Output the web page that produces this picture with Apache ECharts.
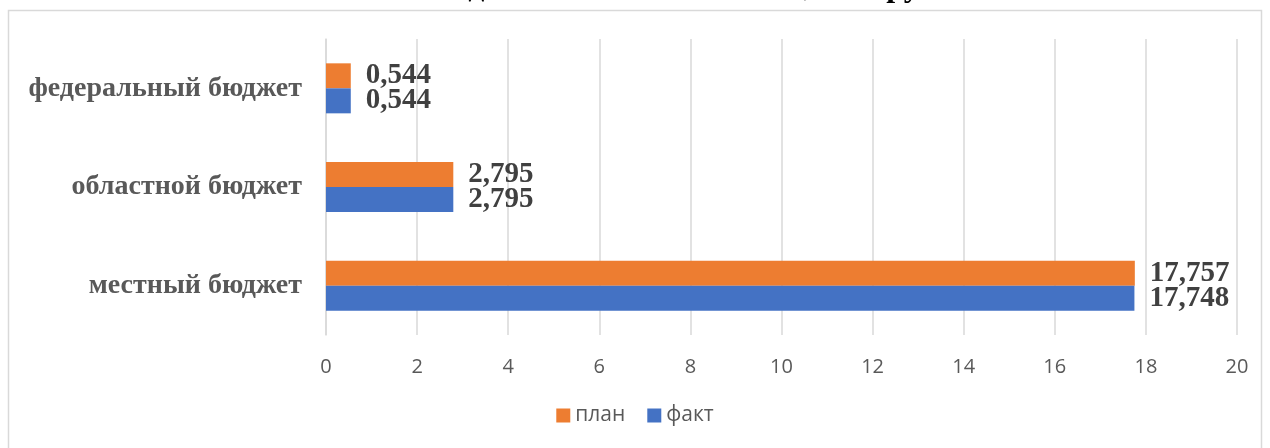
<!DOCTYPE html>
<html>
<head>
<meta charset="utf-8">
<script src="https://cdn.jsdelivr.net/npm/echarts@6/dist/echarts.min.js"></script>
<style>
  html, body { margin: 0; padding: 0; background: #fff; }
  #main { width: 1270px; height: 448px; }
</style>
</head>
<body>
<div id="main"></div>
<script>
// категории снизу вверх
var categories = ['местный бюджет', 'областной бюджет', 'федеральный бюджет'];
var planData = [17.757, 2.795, 0.544];
var factData = [17.748, 2.795, 0.544];
var seriesNames = ['план', 'факт'];

var chart = echarts.init(document.getElementById('main'));

function fmt(p) {
  return p.value.toFixed(3).replace('.', ',');
}

var labelStyle = {
  show: true,
  position: 'right',
  distance: 15,
  formatter: fmt,
  fontFamily: 'Liberation Serif',
  fontWeight: 'bold',
  fontSize: 29,
  color: '#404040'
};

var option = {
  animation: false,
  title: {
    text: 'Объем бюджетных ассигнований, млн руб.',
    left: 'center',
    top: -33,
    textStyle: {
      fontFamily: 'Liberation Serif',
      fontWeight: 'bold',
      fontSize: 32,
      color: '#000'
    }
  },
  graphic: [{
    type: 'rect',
    shape: { x: 8.5, y: 10.5, width: 1253, height: 460 },
    style: { fill: 'none', stroke: '#d9d9d9', lineWidth: 1.5 },
    silent: true
  }],
  legend: {
    data: seriesNames,
    bottom: 17,
    left: 'center',
    itemWidth: 14,
    itemHeight: 14,
    itemGap: 22,
    icon: 'rect',
    textStyle: {
      fontFamily: 'Open Sans',
      fontSize: 21,
      color: '#595959'
    }
  },
  grid: {
    left: 326,
    right: 33,
    top: 39,
    bottom: 113
  },
  xAxis: {
    type: 'value',
    min: 0,
    max: 20,
    interval: 2,
    axisLine: { show: false },
    axisTick: { show: false },
    splitLine: { lineStyle: { color: '#d9d9d9', width: 1.5 } },
    axisLabel: {
      margin: 22,
      fontFamily: 'Open Sans',
      fontSize: 20,
      color: '#595959'
    }
  },
  yAxis: {
    type: 'category',
    data: categories,
    axisLine: { show: true, lineStyle: { color: '#d9d9d9', width: 1.5 } },
    axisTick: { show: false },
    axisLabel: {
      margin: 24,
      fontFamily: 'Liberation Serif',
      fontWeight: 'bold',
      fontSize: 28,
      color: '#595959'
    }
  },
  series: [
    {
      name: 'план',
      type: 'bar',
      data: planData,
      barWidth: 25,
      barGap: '0%',
      itemStyle: { color: '#ed7d31' },
      label: labelStyle
    },
    {
      name: 'факт',
      type: 'bar',
      data: factData,
      barWidth: 25,
      barGap: '0%',
      itemStyle: { color: '#4472c4' },
      label: labelStyle
    }
  ]
};

chart.setOption(option);
</script>
</body>
</html>
